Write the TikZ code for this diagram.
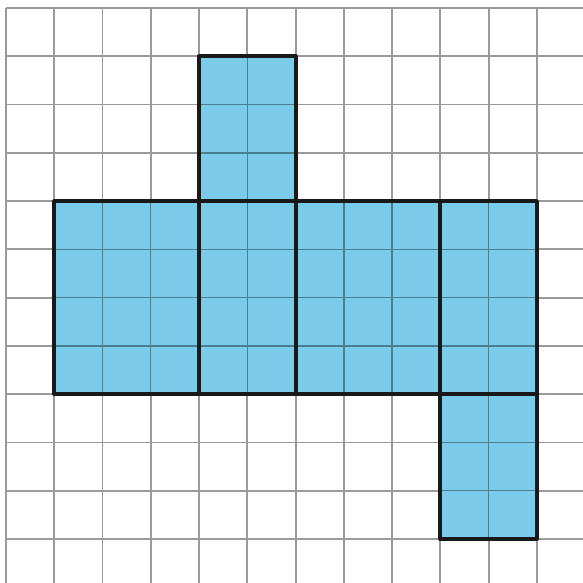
\documentclass[tikz,border=0pt]{standalone}
\usepackage{tikz}
\usepackage{xcolor}
\definecolor{netblue}{HTML}{7ACCEA}
\definecolor{netline}{HTML}{4A7F92}
\definecolor{paperline}{HTML}{9A9A9A}

\begin{document}
\begin{tikzpicture}[gridline/.style={paperline, line width=1.1pt},
    faceline/.style={netline, line width=0.8pt},
    facebox/.style={black!90, line width=2.3pt, line join=round}]
    \useasboundingbox (-0.124,0.166) rectangle (11.954,-11.912);
    \clip (-0.124,0.166) rectangle (11.954,-11.912);
    % squared paper
    \draw [gridline] (0,-12.5) grid (12.5,0);
    % the six faces of the box (x, y of upper left corner, width, height)
    \foreach \fx/\fy/\fw/\fh in {4/-1/2/3, 1/-4/3/4, 4/-4/2/4, 6/-4/3/4, 9/-4/2/4, 9/-8/2/3} {
        \fill [netblue] (\fx,\fy) rectangle ++(\fw,-\fh);
        \draw [faceline] (\fx,\fy) grid ++(\fw,-\fh);
    }
    \foreach \fx/\fy/\fw/\fh in {4/-1/2/3, 1/-4/3/4, 4/-4/2/4, 6/-4/3/4, 9/-4/2/4, 9/-8/2/3}
        \draw [facebox] (\fx,\fy) rectangle ++(\fw,-\fh);
\end{tikzpicture}
\end{document}
